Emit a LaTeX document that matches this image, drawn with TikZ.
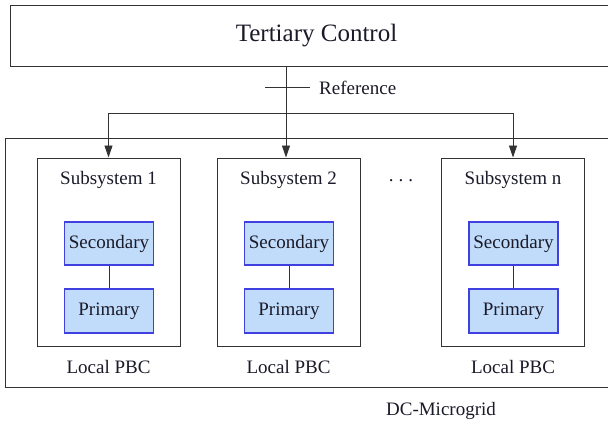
\documentclass[tikz,border=0pt]{standalone}
\usepackage{fontspec}
\newfontfamily\timesfont{Liberation Serif}
\usetikzlibrary{arrows.meta}
\definecolor{boxfill}{HTML}{C0DCFA}
\definecolor{boxline}{HTML}{4040E0}
\definecolor{ink}{HTML}{1A1A28}
\begin{document}
\begin{tikzpicture}[x=1pt,y=-1pt,
  every node/.style={text=ink,font=\timesfont\fontsize{19}{22}\selectfont},
  frame/.style={draw=black!80,line width=1pt,rectangle,inner sep=0pt},
  level/.style={draw=boxline,fill=boxfill,line width=1.2pt,rectangle,inner sep=0pt,minimum width=89pt,minimum height=43pt},
  conn/.style={draw=black!80,line width=0.9pt},
  arr/.style={conn,-{Triangle[length=12pt,width=8pt]}}]
\useasboundingbox (0,0) rectangle (608,426);
% outer boxes
\node[frame,minimum width=617pt,minimum height=249pt] (grid) at (313.5,262.5) {};
\node[frame,minimum width=612pt,minimum height=61.5pt,font=\timesfont\fontsize{25}{28}\selectfont] (tert) at (316.5,36) {Tertiary Control};
% subsystems
\foreach \n/\x/\lab in {1/108.5/1, 2/288.5/2, n/513/n}{
  \node[frame,minimum width=143pt,minimum height=188pt] (sub\n) at (\x,252) {};
  \node (title\n) at (\x,180) {Subsystem \lab};
  \node[level] (sec\n) at (\x+0.5,243.5) {Secondary};
  \node[level,minimum height=44pt] (pri\n) at (\x+0.5,311) {Primary};
  \draw[conn] (sec\n) -- (pri\n);
  \node (pbc\n) at (\x,367) {Local PBC};
}
\node (dots) at (401,181) {.\hspace{5pt}.\hspace{5pt}.};
\node (dc) at (441,411) {DC-Microgrid};
% reference distribution
\coordinate (bus) at (286,113);
\coordinate (tick) at (286,87);
\draw[arr] (tert.south -| bus) -- (bus |- sub2.north);
\draw[arr] (bus) -| (sub1.north);
\draw[arr] (bus) -| (subn.north);
\draw[conn] ([xshift=-21pt]tick) -- ([xshift=24pt]tick);
\node[anchor=west,inner sep=0pt] (ref) at (319,88) {Reference};
\end{tikzpicture}
\end{document}
